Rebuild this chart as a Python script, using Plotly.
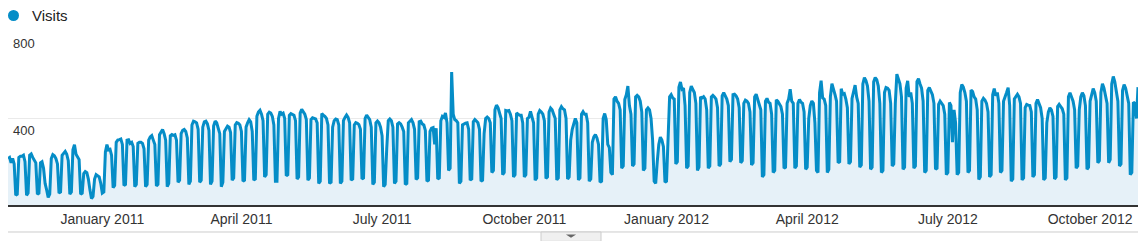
import plotly.graph_objects as go
import pandas as pd

# Daily visits, one row per week (Mon..Sun), starting Monday 2010-11-01
weeks_a = [
    [215, 220, 195, 215, 190, 45, 50], [220, 225, 225, 230, 200, 45, 55],
    [230, 236, 220, 210, 195, 50, 55], [195, 200, 170, 100, 70, 35, 50],
    [215, 233, 228, 215, 190, 55, 60], [230, 240, 248, 235, 205, 50, 60],
    [255, 279, 235, 225, 210, 50, 55], [145, 155, 150, 120, 70, 30, 40],
    [120, 140, 135, 130, 100, 55, 60], [245, 279, 255, 258, 230, 80, 90],
    [290, 300, 302, 305, 280, 90, 95], [300, 302, 285, 290, 270, 85, 95],
    [285, 290, 290, 285, 260, 85, 95], [300, 315, 321, 300, 280, 88, 95],
    [325, 340, 349, 330, 300, 85, 100], [320, 326, 322, 325, 300, 105, 115],
    [330, 345, 349, 340, 310, 95, 110], [370, 388, 385, 380, 350, 105, 115],
    [360, 385, 388, 375, 345, 95, 110], [365, 388, 380, 360, 330, 85, 105],
    [340, 355, 365, 360, 335, 115, 125], [370, 381, 378, 370, 340, 110, 115],
    [360, 380, 395, 385, 340, 115, 120], [410, 430, 438, 420, 390, 130, 140],
    [420, 429, 425, 410, 370, 110, 110], [400, 433, 420, 425, 400, 135, 140],
]
weeks_b = [
    [415, 423, 420, 415, 390, 120, 130], [425, 442, 430, 420, 395, 115, 125],
    [395, 403, 400, 398, 380, 100, 110], [423, 415, 410, 400, 370, 100, 105],
    [360, 390, 398, 395, 370, 100, 110], [390, 405, 416, 405, 380, 115, 120],
    [370, 381, 378, 372, 350, 120, 125], [400, 416, 405, 395, 360, 95, 105],
    [380, 388, 380, 360, 320, 85, 95], [260, 390, 398, 390, 360, 100, 110],
    [375, 381, 375, 360, 340, 95, 100], [380, 390, 395, 380, 350, 118, 125],
    [385, 388, 375, 370, 345, 110, 115], [340, 355, 358, 280, 355, 120, 125],
    [390, 410, 405, 425, 380, 160, 170], [615, 420, 395, 390, 380, 100, 110],
    [370, 375, 378, 380, 350, 115, 120], [385, 395, 388, 380, 350, 110, 115],
    [330, 400, 407, 400, 380, 150, 160], [440, 462, 450, 430, 400, 140, 150],
    [437, 435, 437, 420, 390, 130, 140], [425, 420, 415, 415, 380, 130, 140],
    [400, 405, 433, 410, 380, 115, 125], [420, 437, 430, 420, 390, 123, 130],
    [430, 448, 440, 420, 400, 116, 125], [440, 455, 445, 440, 400, 120, 130],
]
weeks_c = [
    [300, 350, 380, 400, 380, 116, 125], [420, 432, 420, 420, 380, 110, 120],
    [290, 315, 326, 310, 280, 105, 110], [400, 423, 395, 280, 265, 150, 140],
    [490, 500, 480, 470, 440, 170, 180], [488, 510, 550, 460, 420, 180, 190],
    [500, 507, 500, 480, 430, 160, 170], [440, 449, 440, 400, 300, 110, 100],
    [200, 280, 314, 300, 270, 105, 110], [350, 500, 510, 495, 490, 190, 200],
    [545, 569, 535, 540, 460, 170, 180], [520, 550, 535, 520, 470, 160, 175],
    [500, 495, 501, 490, 440, 170, 180], [500, 507, 500, 490, 450, 180, 190],
    [505, 519, 500, 490, 460, 200, 210], [510, 512, 505, 490, 450, 195, 205],
    [470, 485, 480, 470, 430, 185, 195], [500, 512, 490, 470, 440, 130, 140],
    [480, 493, 475, 470, 420, 150, 160], [486, 480, 470, 455, 420, 170, 175],
    [470, 490, 535, 480, 470, 170, 180], [470, 488, 475, 470, 430, 165, 175],
    [400, 460, 481, 470, 380, 160, 150], [520, 575, 495, 490, 460, 150, 165],
    [500, 561, 540, 510, 480, 195, 200], [538, 512, 515, 490, 450, 190, 200],
]
weeks_d = [
    [493, 520, 554, 500, 470, 175, 185], [560, 589, 575, 550, 480, 165, 175],
    [570, 589, 580, 550, 470, 150, 160], [520, 543, 540, 530, 470, 180, 190],
    [470, 605, 585, 560, 500, 165, 175], [540, 574, 500, 520, 470, 170, 180],
    [570, 584, 560, 540, 480, 150, 160], [530, 543, 530, 510, 470, 165, 170],
    [465, 480, 470, 460, 420, 140, 150], [474, 460, 290, 440, 380, 140, 150],
    [520, 557, 545, 520, 480, 150, 160], [532, 525, 500, 490, 440, 118, 130],
    [480, 493, 485, 470, 430, 130, 140], [510, 538, 505, 520, 470, 150, 160],
    [480, 497, 520, 543, 460, 110, 120], [490, 505, 512, 500, 470, 116, 125],
    [450, 465, 462, 460, 430, 130, 140], [470, 488, 470, 450, 400, 116, 125],
    [380, 430, 449, 440, 410, 120, 130], [455, 465, 455, 445, 420, 116, 125],
    [500, 519, 500, 480, 440, 170, 180], [440, 500, 519, 505, 460, 165, 175],
    [480, 510, 538, 520, 480, 195, 205], [520, 561, 540, 510, 470, 195, 210],
    [560, 594, 570, 520, 480, 180, 190], [530, 557, 540, 500, 470, 140, 150],
    [475, 470, 400, 545],
]

tick_dates = ["2011-01-01", "2011-04-01", "2011-07-01", "2011-10-01",
              "2012-01-01", "2012-04-01", "2012-07-01", "2012-10-01"]
tick_labels = ["January 2011", "April 2011", "July 2011", "October 2011",
               "January 2012", "April 2012", "July 2012", "October 2012"]
y_ticks = [400, 800]

visits = [v for blk in (weeks_a, weeks_b, weeks_c, weeks_d) for w in blk for v in w]
dates = pd.date_range("2010-11-01", periods=len(visits), freq="D")

LINE = "#058DC7"
FILL = "#E6F1F8"
FONT = "Liberation Sans, Arial, sans-serif"

fig = go.Figure()
fig.add_trace(go.Scatter(
    x=dates, y=visits, mode="lines",
    line=dict(color=LINE, width=3),
    fill="tozeroy", fillcolor=FILL,
    hoverinfo="x+y", showlegend=False,
))

fig.update_layout(
    width=1144, height=241,
    margin=dict(l=8, r=6, t=32, b=36),
    paper_bgcolor="white", plot_bgcolor="white",
    font=dict(family=FONT, color="#333333"),
    xaxis=dict(
        range=[dates[0], dates[-1]],
        tickvals=tick_dates, ticktext=tick_labels,
        tickfont=dict(size=14, color="#333333"),
        ticks="", showgrid=False, zeroline=False,
        showline=True, linecolor="#333333", linewidth=2,
        fixedrange=True,
    ),
    yaxis=dict(
        range=[0, 800], tickvals=y_ticks, showticklabels=False,
        showgrid=True, gridcolor="#EAEAEA", gridwidth=1,
        zeroline=False, showline=False, fixedrange=True,
    ),
)

# y labels inside the plot, just beneath the grid lines
for v in y_ticks:
    fig.add_annotation(
        xref="paper", yref="y", x=0, y=v, xanchor="left", yanchor="top",
        xshift=3, yshift=-2, text=str(v), showarrow=False,
        font=dict(size=13, color="#333333", family=FONT),
    )

# legend: dot + "Visits"
fig.add_shape(type="circle", xref="paper", yref="paper",
              xsizemode="pixel", ysizemode="pixel",
              xanchor=0, yanchor=1,
              x0=0, x1=11, y0=11, y1=22,
              fillcolor=LINE, line=dict(width=0))
fig.add_annotation(xref="paper", yref="paper", x=0, y=1, xanchor="left",
                   yanchor="middle", xshift=22, yshift=17, text="Visits",
                   showarrow=False, font=dict(size=15, color="#222222", family=FONT))

# bottom gray rule and small tab with triangle
fig.add_shape(type="line", xref="paper", yref="paper", x0=0, x1=1,
              y0=-0.156, y1=-0.156, line=dict(color="#CCCCCC", width=1))
fig.add_shape(type="rect", xref="paper", yref="paper",
              x0=(541 - 8) / 1130, x1=(601 - 8) / 1130, y0=-0.21, y1=-0.156,
              fillcolor="#F0F0F0", line=dict(color="#CCCCCC", width=1))
cx = (571 - 8) / 1130
fig.add_shape(type="path", xref="paper", yref="paper",
              path=f"M {cx - 0.0045} -0.170 L {cx + 0.0045} -0.170 L {cx} -0.190 Z",
              fillcolor="#666666", line=dict(width=0))

fig.write_html("out.html")
